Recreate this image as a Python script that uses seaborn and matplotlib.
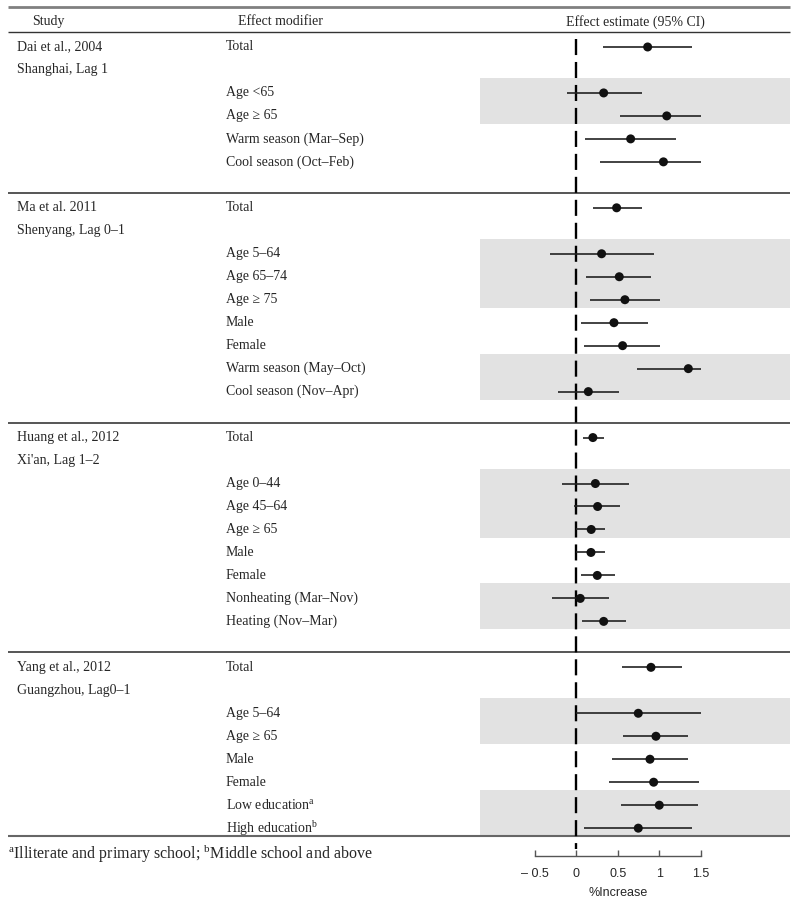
import numpy as np
import pandas as pd
import seaborn as sns
import matplotlib.pyplot as plt

studies = ["Dai et al., 2004", "Ma et al. 2011", "Huang et al., 2012", "Yang et al., 2012"]
locations = ["Shanghai, Lag 1", "Shenyang, Lag 0–1", "Xi'an, Lag 1–2", "Guangzhou, Lag0–1"]

modifiers = [
    ["Total", "Age <65", "Age ≥ 65", "Warm season (Mar–Sep)", "Cool season (Oct–Feb)"],
    ["Total", "Age 5–64", "Age 65–74", "Age ≥ 75", "Male", "Female",
     "Warm season (May–Oct)", "Cool season (Nov–Apr)"],
    ["Total", "Age 0–44", "Age 45–64", "Age ≥ 65", "Male", "Female",
     "Nonheating (Mar–Nov)", "Heating (Nov–Mar)"],
    ["Total", "Age 5–64", "Age ≥ 65", "Male", "Female",
     "Low education$^{\\rm a}$", "High education$^{\\rm b}$"],
]

est = [
    [0.86, 0.33, 1.09, 0.655, 1.05],
    [0.486, 0.305, 0.518, 0.586, 0.454, 0.558, 1.35, 0.145],
    [0.20, 0.23, 0.257, 0.18, 0.177, 0.253, 0.048, 0.33],
    [0.90, 0.747, 0.96, 0.888, 0.932, 1.0, 0.747],
]
lower = [
    [0.317, -0.116, 0.522, 0.108, 0.289],
    [0.205, -0.317, 0.12, 0.161, 0.052, 0.092, 0.727, -0.225],
    [0.084, -0.169, -0.032, 0.0, 0.0, 0.052, -0.289, 0.068],
    [0.546, 0.0, 0.558, 0.426, 0.394, 0.534, 0.092],
]
upper = [
    [1.39, 0.787, 1.498, 1.205, 1.498],
    [0.791, 0.94, 0.90, 1.012, 0.859, 1.012, 1.498, 0.514],
    [0.333, 0.639, 0.526, 0.349, 0.349, 0.462, 0.39, 0.598],
    [1.269, 1.502, 1.349, 1.349, 1.482, 1.462, 1.394],
]
# subgroups (index into modifiers) with a grey band
shaded = [
    [(1, 2)],
    [(1, 3), (6, 7)],
    [(1, 3), (6, 7)],
    [(1, 2), (5, 6)],
]

tick_vals = [-0.5, 0, 0.5, 1, 1.5]
tick_labels = ["– 0.5", "0", "0.5", "1", "1.5"]

# build long table with row positions
records = []
study_start = []
row = 0
for s, mods in enumerate(modifiers):
    study_start.append(row)
    for m, name in enumerate(mods):
        r = row if m == 0 else row + m + 1
        records.append(dict(study=s, modifier=name, row=r,
                            est=est[s][m], lo=lower[s][m], hi=upper[s][m]))
    row = row + len(mods) + 2
df = pd.DataFrame(records)
last_row = df["row"].max()

sns.set_theme(style="white")
plt.rcParams["font.family"] = ["Liberation Serif", "DejaVu Serif"]
plt.rcParams["mathtext.fontset"] = "custom"
plt.rcParams["mathtext.rm"] = "Liberation Serif"

fig = plt.figure(figsize=(8, 9.09), dpi=100)
ax = fig.add_axes([0.6, 0.0586, 0.3875, 0.9337])
xlo, xhi = -1.16, 2.575
ax.set_xlim(xlo, xhi)
ax.set_ylim(35.2, -1.74)

ytr = ax.get_yaxis_transform()
fs = 10

# grey bands
for s, groups in enumerate(shaded):
    sub = df[df.study == s].reset_index(drop=True)
    for a, b in groups:
        ax.axhspan(sub.row[a] - 0.65, sub.row[b] + 0.35, color="#e2e2e2", lw=0, zorder=0)

# table rules
rule_x0 = (8 - 480) / 310
ax.hlines(-1.72, rule_x0, 1.0, transform=ytr, color="#808080", lw=2.0, clip_on=False)
ax.hlines(-0.65, rule_x0, 1.0, transform=ytr, color="#333333", lw=1.0, clip_on=False)
for s in range(1, len(studies)):
    ax.hlines(study_start[s] - 0.65, rule_x0, 1.0, transform=ytr, color="#555555", lw=1.4, clip_on=False)
ax.hlines(last_row + 0.35, rule_x0, 1.0, transform=ytr, color="#666666", lw=1.5, clip_on=False)

# headers
ax.text((48 - 480) / 310, -1.1, "Study", transform=ytr, ha="center", va="center", fontsize=fs)
ax.text((280 - 480) / 310, -1.1, "Effect modifier", transform=ytr, ha="center", va="center", fontsize=fs)
ax.text(0.503, -1.1, "Effect estimate (95% CI)", transform=ytr, ha="center", va="center", fontsize=fs)

# left columns
col1 = (17 - 480) / 310
col2 = (226 - 480) / 310
for s in range(len(studies)):
    ax.text(col1, study_start[s], studies[s], transform=ytr, va="center", fontsize=fs)
    ax.text(col1, study_start[s] + 1, locations[s], transform=ytr, va="center", fontsize=fs)
for _, r in df.iterrows():
    ax.text(col2, r.row, r.modifier, transform=ytr, va="center", fontsize=fs)

# reference line
ax.vlines(0, -0.35, 34.9, color="black", lw=1.7, linestyles=(0, (6.8, 2.93)), zorder=2)

# CIs and points
ax.hlines(df.row, df.lo, df.hi, color="#222222", lw=1.2, zorder=3)
sns.scatterplot(data=df, x="est", y="row", color="#111111", s=42, edgecolor="none",
                zorder=4, ax=ax, legend=False)

# axis
for side in ["left", "top", "right"]:
    ax.spines[side].set_visible(False)
ax.spines["bottom"].set_bounds(tick_vals[0], tick_vals[-1])
ax.spines["bottom"].set_color("#555555")
ax.spines["bottom"].set_linewidth(1.0)
ax.set_yticks([])
ax.set_xticks(tick_vals)
ax.set_xticklabels(tick_labels, fontfamily="Liberation Sans", fontsize=9)
ax.tick_params(axis="x", direction="in", length=4, width=1.0, color="#555555", pad=9, bottom=True)
ax.set_xlabel("%Increase", fontfamily="Liberation Sans", fontsize=9, labelpad=6)
mid = (tick_vals[0] + tick_vals[-1]) / 2
ax.xaxis.set_label_coords((mid - xlo) / (xhi - xlo), -0.037)
ax.set_ylabel("")

fig.text(8 / 800, 1 - 854 / 909,
         "$^{\\rm a}$Illiterate and primary school; $^{\\rm b}$Middle school and above",
         va="center", ha="left", fontsize=11.5)

fig.savefig("out.png", dpi=100)
